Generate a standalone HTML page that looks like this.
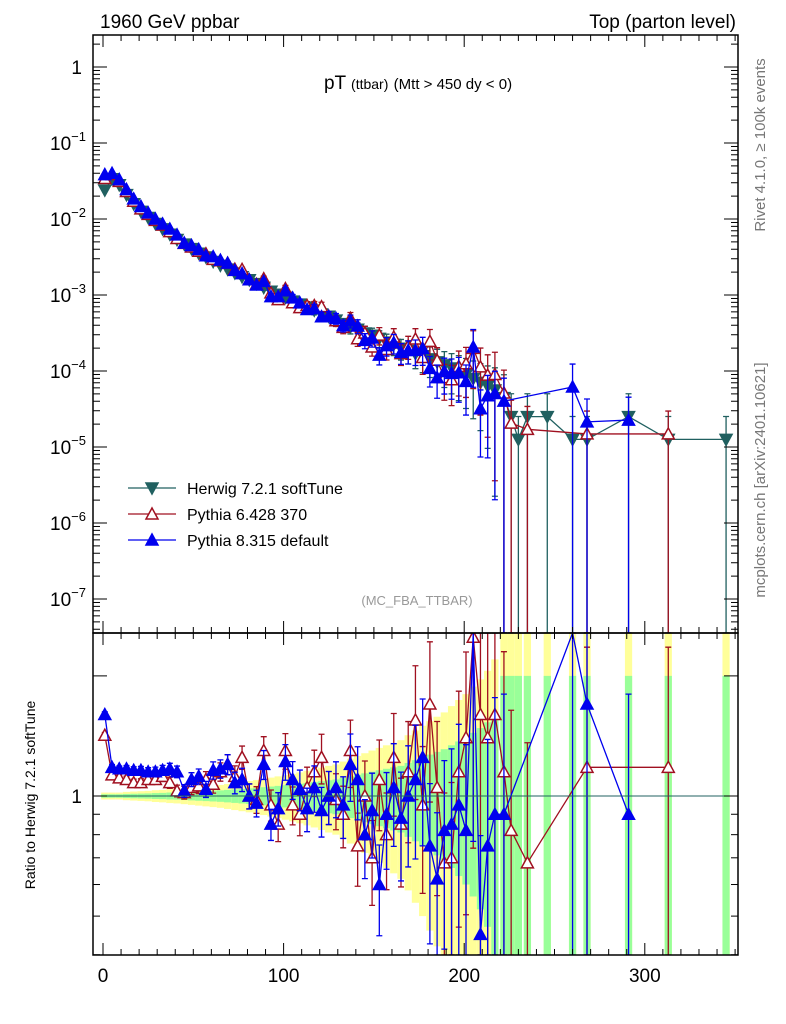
<!DOCTYPE html>
<html><head><meta charset="utf-8"><style>
html,body{margin:0;padding:0;background:#fff;overflow:hidden;width:786px;height:1024px}
svg{display:block}
svg text{font-family:"Liberation Sans",sans-serif}
</style></head><body>
<svg id="c" width="786" height="1024" xmlns="http://www.w3.org/2000/svg">
<defs>
<clipPath id="cm"><rect x="93" y="35" width="645" height="598"/></clipPath>
<clipPath id="cr"><rect x="93" y="633" width="645" height="322"/></clipPath>
</defs>
<g id="bands" clip-path="url(#cr)"></g>
<g id="mainMarks" clip-path="url(#cm)"></g>
<g id="ratioMarks" clip-path="url(#cr)"></g>
<g id="axes"></g>
<text x="100" y="28" font-size="19">1960 GeV ppbar</text>
<text x="736" y="28" font-size="19" text-anchor="end">Top (parton level)</text>
<text x="418" y="89" font-size="19" text-anchor="middle">pT <tspan font-size="14">(ttbar)</tspan> <tspan font-size="15">(Mtt &gt; 450 dy &lt; 0)</tspan></text>
<text x="417" y="605" font-size="13" fill="#999" text-anchor="middle">(MC_FBA_TTBAR)</text>
<text transform="translate(765,145) rotate(-90)" font-size="15" fill="#777" text-anchor="middle">Rivet 4.1.0, ≥ 100k events</text>
<text transform="translate(765,480) rotate(-90)" font-size="15" fill="#777" text-anchor="middle">mcplots.cern.ch [arXiv:2401.10621]</text>
<text transform="translate(35,795) rotate(-90)" font-size="14" text-anchor="middle">Ratio to Herwig 7.2.1 softTune</text>
<g id="legend"></g>
</svg>
<script>
const pt=[1,5,9,13,17,21,25,29,33,37,41,45,49,53,57,61,65,69,73,77,81,85,89,93,97,101,105,109,113,117,121,125,129,
133,137,141,145,149,153,157,161,165,169,173,177,181,185,189,193,197,201,205,209,213,217,
222,226,230,235,246,260,268,291,313,345];
const hLog=[-1.62,-1.47,-1.55,-1.68,-1.80,-1.90,-1.98,-2.06,-2.13,-2.20,-2.27,-2.33,-2.39,-2.45,-2.50,-2.56,-2.61,-2.66,-2.71,-2.76,-2.80,-2.85,-2.90,-2.95,-2.99,-3.03,-3.08,-3.12,-3.16,-3.20,-3.25,-3.28,-3.33,
-3.38,-3.42,-3.45,-3.50,-3.53,-3.57,-3.62,-3.65,-3.70,-3.73,-3.77,-3.80,-3.84,-3.88,-3.92,-3.96,-4.00,-4.05,-4.10,-4.15,-4.20,-4.25,
-4.35,-4.60,-4.90,-4.60,-4.60,-4.90,-4.90,-4.60,-4.90,-4.90];
const r6=[1.42,1.13,1.11,1.10,1.08,1.08,1.10,1.10,1.12,1.08,1.03,1.02,1.05,1.06,1.10,1.07,1.15,1.20,1.12,1.25,1.00,0.98,1.30,0.95,0.85,1.30,0.95,0.90,1.05,1.15,1.25,1.00,0.98,
0.90,1.30,0.75,1.00,0.70,1.10,0.80,1.25,0.85,1.15,1.55,0.95,1.70,1.05,0.68,0.70,1.15,1.40,2.50,1.60,1.40,1.60,
1.15,0.82,null,0.68,null,null,1.18,null,1.18,null];
const r8=[1.60,1.18,1.17,1.17,1.16,1.16,1.15,1.15,1.16,1.17,1.15,1.03,1.10,1.12,1.04,1.16,1.17,1.20,1.08,1.10,1.00,0.96,1.20,0.85,0.93,1.22,1.10,1.04,0.93,1.05,0.92,1.00,1.05,
0.95,1.20,1.10,0.80,0.92,0.60,0.90,1.05,0.88,1.00,1.10,1.25,0.75,0.62,0.82,0.85,0.95,0.82,2.60,0.45,0.75,0.90,
0.90,null,null,null,null,4.90,1.70,0.90,null,null];
const relErr=[0.01,0.01,0.01,0.012,0.013,0.014,0.015,0.017,0.018,0.02,0.021,0.023,0.025,0.027,0.029,0.031,0.033,0.036,0.039,0.042,0.045,0.048,0.052,0.056,0.06,0.064,0.068,0.073,0.078,0.083,0.089,0.095,0.10,
0.11,0.12,0.13,0.14,0.15,0.16,0.17,0.18,0.19,0.21,0.23,0.25,0.27,0.29,0.31,0.34,0.37,0.40,0.44,0.48,0.53,0.6,
1.0,1.0,1.0,1.0,1.0,1.0,1.0,1.0,1.0,1.0];
const xTicks=[0,100,200,300];
const yExp=[0,-1,-2,-3,-4,-5,-6,-7];

const NS="http://www.w3.org/2000/svg";
const X=v=>103+1.806*v;
const Y=l=>67-76*l;
const YMIN=633;
const R=r=>796-399*Math.log10(r);
const clampR=y=>Math.max(633,Math.min(955,y));
const clampM=y=>Math.max(35,Math.min(633,y));
function mk(tag,at,parent){const e=document.createElementNS(NS,tag);for(const k in at)e.setAttribute(k,at[k]);parent.appendChild(e);return e;}
const gb=document.getElementById('bands'),gm=document.getElementById('mainMarks'),gr=document.getElementById('ratioMarks'),ga=document.getElementById('axes'),gl=document.getElementById('legend');

pt.forEach((p,i)=>{
  const w=(i<pt.length-1? Math.min(pt[i+1]-p,4):4)*1.806;
  const e=relErr[i];
  const y1=clampR(R(1+2*e)), y2=clampR(R(Math.max(1-2*e,0.01)));
  const b1=mk('rect',{x:X(p)-w/2,y:y1,width:w,height:y2-y1,fill:'#ffff99'},gb);
  
  
  const g1=clampR(R(1+e)), g2=clampR(R(Math.max(1-e,0.01)));
  const b2=mk('rect',{x:X(p)-w/2,y:g1,width:w,height:g2-g1,fill:'#99ff99'},gb);
  
  
});

const series=[
 {name:'herwig',col:'#206060',ratio:null,type:'down',fill:true,label:'Herwig 7.2.1 softTune'},
 {name:'pythia6',col:'#a01020',ratio:r6,type:'up',fill:false,label:'Pythia 6.428 370'},
 {name:'pythia8',col:'#0000ee',ratio:r8,type:'up',fill:true,label:'Pythia 8.315 default'}
];
function marker(g,x,y,s,nm){
  const d=s.type==='down'?`M${x-6},${y-5}L${x+6},${y-5}L${x},${y+6}Z`:`M${x-6},${y+5}L${x+6},${y+5}L${x},${y-6}Z`;
  const m=mk('path',{d:d,fill:s.fill?s.col:'#fff',stroke:s.col,'stroke-width':1.5},g);
  
  
}
series.forEach(s=>{
  const pts=[];
  pt.forEach((p,i)=>{
    let l=hLog[i];
    if(s.ratio){ if(s.ratio[i]==null) return; l+=Math.log10(s.ratio[i]); }
    pts.push([X(p),Y(l),i,l]);
  });
  const line=mk('polyline',{points:pts.map(q=>q[0]+','+q[1]).join(' '),fill:'none',stroke:s.col,'stroke-width':1.3},gm);
  
  
  pts.forEach(q=>{
    const e=Math.min(1,relErr[q[2]]*1.6),v=Math.pow(10,q[3]);
    const yt=clampM(Y(Math.log10(v*(1+e)))), yb=e>=1?YMIN:clampM(Y(Math.log10(v*(1-e))));
    const eb=mk('path',{d:`M${q[0]},${yt}V${yb}M${q[0]-3},${yt}H${q[0]+3}M${q[0]-3},${yb}H${q[0]+3}`,stroke:s.col,'stroke-width':1.3},gm);
    
    
  });
  pts.forEach(q=>marker(gm,q[0],q[1],s,s.name+'-point'));
  if(s.ratio){
    const rp=[];
    pt.forEach((p,i)=>{ if(s.ratio[i]!=null) rp.push([X(p),R(s.ratio[i]),i]); });
    const rl=mk('polyline',{points:rp.map(q=>q[0]+','+clampR(q[1])).join(' '),fill:'none',stroke:s.col,'stroke-width':1.3},gr);
    
    
    rp.forEach(q=>{
      const r=s.ratio[q[2]],e=Math.min(1,relErr[q[2]]*1.6);
      const yt=clampR(R(r*(1+e))), yb=e>=1?955:clampR(R(r*(1-e)));
      const eb=mk('path',{d:`M${q[0]},${yt}V${yb}M${q[0]-3},${yt}H${q[0]+3}M${q[0]-3},${yb}H${q[0]+3}`,stroke:s.col,'stroke-width':1.3},gr);
      
      
    });
    rp.forEach(q=>{ if(q[1]>=633&&q[1]<=955) marker(gr,q[0],q[1],s,s.name+'-ratio-point'); });
  }
});
const hl=mk('line',{x1:X(pt[0]),x2:X(pt[pt.length-1]),y1:R(1),y2:R(1),stroke:'#206060','stroke-width':1},gr);



[[35,598],[633,322]].forEach(f=>{
  const r=mk('rect',{x:93,y:f[0],width:645,height:f[1],fill:'none',stroke:'#000','stroke-width':1.5},ga);
  
  
});
for(let v=0;v<=350;v+=10){
  const maj=v%100===0,len=maj?12:6;
  [[633,-1],[955,-1],[35,1],[633,1]].forEach(([y,d])=>{
    mk('line',{x1:X(v),x2:X(v),y1:y,y2:y+d*len,stroke:'#000','stroke-width':1},ga);
  });
}
xTicks.forEach(v=>{
  const t=mk('text',{x:X(v),y:982,'font-size':19,'text-anchor':'middle'},ga);t.textContent=v;
  
  
});
for(let e=1;e>=-8;e--){
  for(let k=1;k<10;k++){
    const y=Y(e+Math.log10(k)); if(y<35||y>633) continue;
    const len=k===1?14:7;
    mk('line',{x1:93,x2:93+len,y1:y,y2:y,stroke:'#000'},ga);
    mk('line',{x1:738,x2:738-len,y1:y,y2:y,stroke:'#000'},ga);
  }
}
yExp.forEach(e=>{
  const t=mk('text',{x:e===0?82:80,y:Y(e)+7,'font-size':19,'text-anchor':'end'},ga);
  
  
  if(e===0){t.textContent='1';}
  else{t.textContent='10';const s=mk('tspan',{dy:-9,'font-size':13},t);s.textContent=String(e).replace('-','−');t.setAttribute('x',86);}
});
[0.4,0.5,0.6,0.7,0.8,0.9,1,2].forEach(r=>{
  const y=R(r),len=(r===1||r===2)?14:7;
  mk('line',{x1:93,x2:93+len,y1:y,y2:y,stroke:'#000'},ga);
  mk('line',{x1:738,x2:738-len,y1:y,y2:y,stroke:'#000'},ga);
});
const t1=mk('text',{x:82,y:R(1)+7,'font-size':19,'text-anchor':'end'},ga);t1.textContent='1';



series.forEach((s,i)=>{
  const y=488+i*26;
  const l=mk('line',{x1:128,x2:176,y1:y,y2:y,stroke:s.col,'stroke-width':1.3},gl);
  
  
  marker(gl,152,y,s,'legend-marker');
  const t=mk('text',{x:187,y:y+6,'font-size':16},gl);t.textContent=s.label;
  
  
});
</script>
</body></html>
